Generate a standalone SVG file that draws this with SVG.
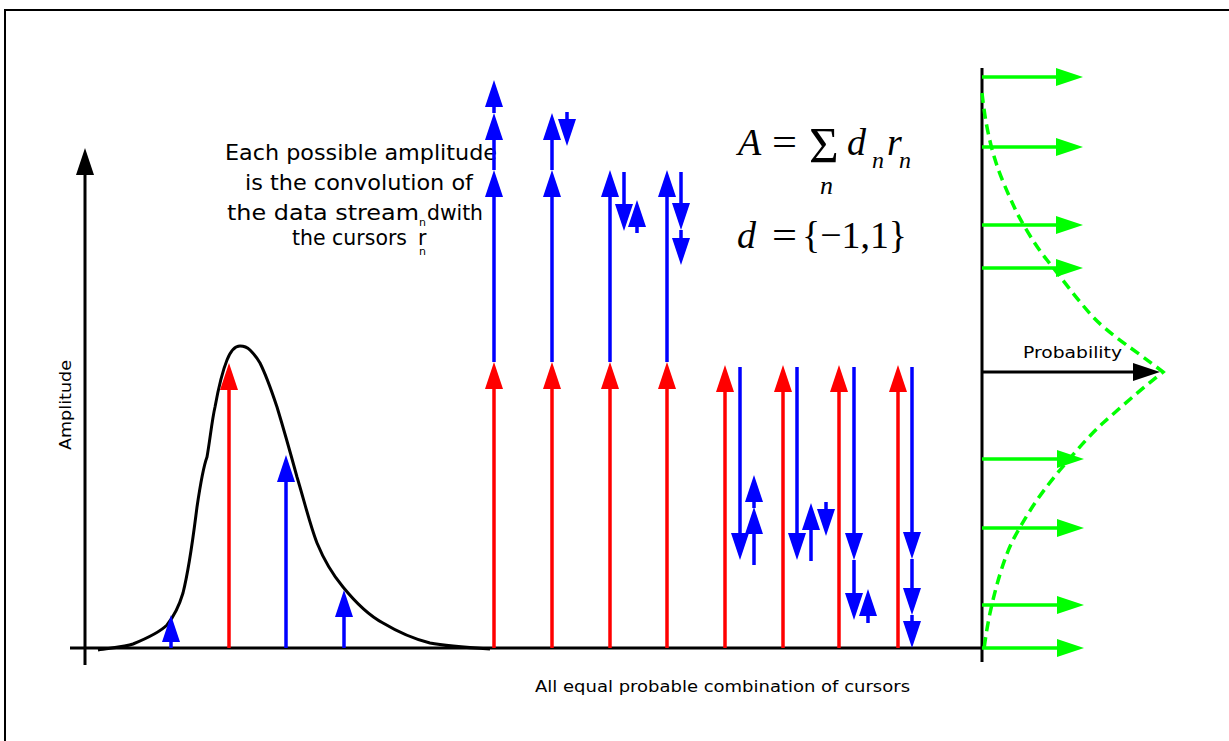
<svg xmlns="http://www.w3.org/2000/svg" width="1229" height="741" viewBox="0 0 1229 741">
<style>
.k{stroke:#000;stroke-width:3;fill:none}
.r{stroke:#ff0000;stroke-width:3.5;fill:none}
.b{stroke:#0000ff;stroke-width:3.5;fill:none}
.g{stroke:#00ff00;stroke-width:3.5;fill:none}
.t{font-family:"DejaVu Sans","Liberation Sans",sans-serif;fill:#000}
.m{font-family:"Liberation Serif","Times New Roman",serif;fill:#000}
.i{font-style:italic}
</style>
<defs>
<marker id="aR" markerUnits="userSpaceOnUse" markerWidth="28" markerHeight="20" refX="7" refY="9" orient="auto"><path d="M0,0 L27,9 L0,18 z" fill="#ff0000"/></marker>
<marker id="aB" markerUnits="userSpaceOnUse" markerWidth="28" markerHeight="20" refX="7" refY="9" orient="auto"><path d="M0,0 L27,9 L0,18 z" fill="#0000ff"/></marker>
<marker id="aG" markerUnits="userSpaceOnUse" markerWidth="28" markerHeight="20" refX="7" refY="9" orient="auto"><path d="M0,0 L27,9 L0,18 z" fill="#00ff00"/></marker>
<marker id="aK" markerUnits="userSpaceOnUse" markerWidth="28" markerHeight="20" refX="7" refY="9" orient="auto"><path d="M0,0 L27,9 L0,18 z" fill="#000"/></marker>
</defs>
<rect x="0" y="0" width="1229" height="741" fill="#fff"/>
<rect x="5" y="10" width="1300" height="800" fill="none" stroke="#000" stroke-width="2"/>

<g id="axes">
<line class="k" x1="85" y1="665" x2="85" y2="168" marker-end="url(#aK)"/>
<line class="k" x1="70" y1="648" x2="982" y2="648"/>
<line class="k" x1="982" y1="68" x2="982" y2="662"/>
<line class="k" x1="982" y1="372" x2="1140" y2="372" marker-end="url(#aK)"/>
</g>

<g id="curve">
<path class="k" d="M98,650 C110,648 125,647 133,644 C150,637 160,632 167,625 C175,615 180,603 183,593 C190,565 194,530 197,507 C201,480 204,465 207,457 C210,440 212,420 215,407 C219,385 223,370 227,360 C231,350 236,346 240,346 C245,346 248,348 250,350 C254,354 257,358 260,363 C266,375 272,392 277,407 C284,430 291,455 297,477 C304,500 310,525 317,543 C324,560 333,575 343,587 C356,603 368,615 383,623 C398,632 414,639 430,643 C445,646 458,647 490,649"/>
</g>

<g id="label-text">
<text class="t" x="225" y="160" font-size="20.5" textLength="272" lengthAdjust="spacingAndGlyphs">Each possible amplitude</text>
<text class="t" x="245" y="190" font-size="20.5" textLength="228" lengthAdjust="spacingAndGlyphs">is the convolution of</text>
<text class="t" x="227" y="220" font-size="20.5"><tspan textLength="192" lengthAdjust="spacingAndGlyphs">the data stream</tspan><tspan x="419" y="226" font-size="11">n</tspan><tspan x="427" y="220" textLength="56" lengthAdjust="spacingAndGlyphs">dwith</tspan></text>
<text class="t" x="292" y="245" font-size="20.5"><tspan textLength="115" lengthAdjust="spacingAndGlyphs">the cursors</tspan><tspan x="418" y="245">r</tspan><tspan x="419" y="255" font-size="11">n</tspan></text>
</g>

<g id="formula">
<text class="m i" x="738" y="155" font-size="38">A</text>
<text class="m" x="772" y="155" font-size="38" textLength="25" lengthAdjust="spacingAndGlyphs">=</text>
<text class="m" x="809" y="162" font-size="51">Σ</text>
<text class="m i" x="820" y="194" font-size="26">n</text>
<text class="m i" x="847" y="155" font-size="38">d</text>
<text class="m i" x="872" y="168" font-size="24">n</text>
<text class="m i" x="887" y="155" font-size="38">r</text>
<text class="m i" x="899" y="168" font-size="24">n</text>
<text class="m i" x="737" y="248" font-size="38">d</text>
<text class="m" x="772" y="248" font-size="38" textLength="25" lengthAdjust="spacingAndGlyphs">=</text>
<text class="m" x="802" y="248" font-size="38" textLength="105" lengthAdjust="spacingAndGlyphs">{−1,1}</text>
</g>

<g id="other-text">
<text class="t" transform="translate(71,405) rotate(-90)" text-anchor="middle" font-size="16" textLength="90" lengthAdjust="spacingAndGlyphs">Amplitude</text>
<text class="t" x="535" y="692" font-size="16" textLength="375" lengthAdjust="spacingAndGlyphs">All equal probable combination of cursors</text>
<text class="t" x="1023" y="358" font-size="15" textLength="99" lengthAdjust="spacingAndGlyphs">Probability</text>
</g>

<g id="connectors">
<line class="b" x1="171" y1="648" x2="171" y2="635" marker-end="url(#aB)"/>
<line class="r" x1="229" y1="648" x2="229" y2="383" marker-end="url(#aR)"/>
<line class="b" x1="286" y1="648" x2="286" y2="475" marker-end="url(#aB)"/>
<line class="b" x1="344" y1="648" x2="344" y2="610" marker-end="url(#aB)"/>

<line class="r" x1="494" y1="648" x2="494" y2="382" marker-end="url(#aR)"/>
<line class="b" x1="494" y1="362" x2="494" y2="190" marker-end="url(#aB)"/>
<line class="b" x1="494" y1="170" x2="494" y2="133" marker-end="url(#aB)"/>
<line class="b" x1="494" y1="113" x2="494" y2="100" marker-end="url(#aB)"/>

<line class="r" x1="552" y1="648" x2="552" y2="382" marker-end="url(#aR)"/>
<line class="b" x1="552" y1="362" x2="552" y2="190" marker-end="url(#aB)"/>
<line class="b" x1="552" y1="170" x2="552" y2="133" marker-end="url(#aB)"/>
<line class="b" x1="567" y1="112" x2="567" y2="126" marker-end="url(#aB)"/>

<line class="r" x1="610" y1="648" x2="610" y2="382" marker-end="url(#aR)"/>
<line class="b" x1="610" y1="362" x2="610" y2="190" marker-end="url(#aB)"/>
<line class="b" x1="624" y1="172" x2="624" y2="211" marker-end="url(#aB)"/>
<line class="b" x1="637" y1="233" x2="637" y2="220" marker-end="url(#aB)"/>

<line class="r" x1="667" y1="648" x2="667" y2="382" marker-end="url(#aR)"/>
<line class="b" x1="667" y1="362" x2="667" y2="190" marker-end="url(#aB)"/>
<line class="b" x1="681" y1="172" x2="681" y2="210" marker-end="url(#aB)"/>
<line class="b" x1="681" y1="230" x2="681" y2="245" marker-end="url(#aB)"/>

<line class="r" x1="725" y1="648" x2="725" y2="385" marker-end="url(#aR)"/>
<line class="b" x1="740" y1="367" x2="740" y2="540" marker-end="url(#aB)"/>
<line class="b" x1="754" y1="565" x2="754" y2="527" marker-end="url(#aB)"/>
<line class="b" x1="754" y1="508" x2="754" y2="495" marker-end="url(#aB)"/>

<line class="r" x1="783" y1="648" x2="783" y2="385" marker-end="url(#aR)"/>
<line class="b" x1="797" y1="367" x2="797" y2="540" marker-end="url(#aB)"/>
<line class="b" x1="811" y1="561" x2="811" y2="523" marker-end="url(#aB)"/>
<line class="b" x1="826" y1="502" x2="826" y2="516" marker-end="url(#aB)"/>

<line class="r" x1="839" y1="648" x2="839" y2="385" marker-end="url(#aR)"/>
<line class="b" x1="854" y1="367" x2="854" y2="540" marker-end="url(#aB)"/>
<line class="b" x1="854" y1="560" x2="854" y2="600" marker-end="url(#aB)"/>
<line class="b" x1="868" y1="623" x2="868" y2="609" marker-end="url(#aB)"/>

<line class="r" x1="898" y1="648" x2="898" y2="385" marker-end="url(#aR)"/>
<line class="b" x1="912" y1="367" x2="912" y2="539" marker-end="url(#aB)"/>
<line class="b" x1="912" y1="559" x2="912" y2="595" marker-end="url(#aB)"/>
<line class="b" x1="912" y1="615" x2="912" y2="628" marker-end="url(#aB)"/>

<line class="g" x1="982" y1="77" x2="1063" y2="77" marker-end="url(#aG)"/>
<line class="g" x1="982" y1="147" x2="1063" y2="147" marker-end="url(#aG)"/>
<line class="g" x1="982" y1="225" x2="1063" y2="225" marker-end="url(#aG)"/>
<line class="g" x1="982" y1="268" x2="1063" y2="268" marker-end="url(#aG)"/>
<line class="g" x1="982" y1="459" x2="1064" y2="459" marker-end="url(#aG)"/>
<line class="g" x1="982" y1="528" x2="1064" y2="528" marker-end="url(#aG)"/>
<line class="g" x1="982" y1="605" x2="1064" y2="605" marker-end="url(#aG)"/>
<line class="g" x1="982" y1="648" x2="1064" y2="648" marker-end="url(#aG)"/>
<path class="g" stroke-dasharray="10,6" d="M982,93 C984,110 986,127 993,153 C998,170 1003,183 1017,213 C1025,228 1035,245 1047,260 C1060,276 1075,297 1093,317 C1110,335 1135,350 1163,372 C1140,390 1120,408 1103,423 C1090,435 1075,452 1060,470 C1045,488 1030,508 1013,540 C1003,560 995,590 990,613 C987,628 985,640 984,650"/>
</g>
</svg>
